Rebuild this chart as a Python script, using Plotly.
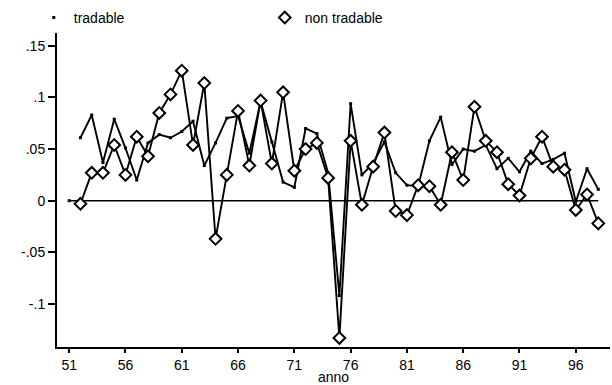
import plotly.graph_objects as go

years = list(range(52, 99))
tradable = [0.061, 0.083, 0.037, 0.079, 0.051, 0.020, 0.056, 0.064, 0.061, 0.067,
            0.077, 0.034, 0.056, 0.080, 0.082, 0.046, 0.096, 0.057, 0.018, 0.013,
            0.070, 0.065, 0.027, -0.092, 0.094, 0.025, 0.036, 0.057, 0.027, 0.015,
            0.014, 0.058, 0.081, 0.035, 0.050, 0.048, 0.054, 0.031, 0.041, 0.028,
            0.048, 0.036, 0.040, 0.046, -0.001, 0.031, 0.011]
non_tradable = [-0.003, 0.027, 0.027, 0.054, 0.025, 0.062, 0.043, 0.085, 0.103, 0.126,
                0.054, 0.114, -0.037, 0.025, 0.087, 0.034, 0.097, 0.036, 0.105, 0.029,
                0.050, 0.056, 0.022, -0.133, 0.058, -0.004, 0.033, 0.066, -0.010, -0.014,
                0.015, 0.014, -0.004, 0.047, 0.020, 0.091, 0.058, 0.047, 0.016, 0.005,
                0.041, 0.062, 0.033, 0.030, -0.009, 0.006, -0.022]
zero_years = list(range(51, 99))
zero_vals = [0.0] * len(zero_years)

x_ticks = list(range(51, 97, 5))
y_ticks = [-0.1, -0.05, 0, 0.05, 0.1, 0.15]
y_tick_labels = ["-.1", "-.05", "0", ".05", ".1", ".15"]

FONT = "Liberation Sans, Arial, sans-serif"

fig = go.Figure()
fig.add_trace(go.Scatter(x=zero_years, y=zero_vals, mode="lines",
                         line=dict(color="black", width=1.6), showlegend=False, hoverinfo="skip"))
fig.add_trace(go.Scatter(x=zero_years[:1], y=zero_vals[:1], mode="markers",
                         marker=dict(symbol="square", size=3, color="black"), showlegend=False))
fig.add_trace(go.Scatter(x=years, y=tradable, mode="lines+markers",
                         line=dict(color="black", width=1.9),
                         marker=dict(symbol="square", size=3, color="black"),
                         showlegend=False))
fig.add_trace(go.Scatter(x=years, y=non_tradable, mode="lines+markers",
                         line=dict(color="black", width=1.9),
                         marker=dict(symbol="diamond", size=9, color="white",
                                     line=dict(color="black", width=2)),
                         showlegend=False))
# legend entries (marker only)
fig.add_trace(go.Scatter(x=[None], y=[None], mode="markers", name="tradable",
                         marker=dict(symbol="square", size=3, color="black")))
fig.add_trace(go.Scatter(x=[None], y=[None], mode="markers", name="non tradable",
                         marker=dict(symbol="diamond", size=9, color="white",
                                     line=dict(color="black", width=2))))

fig.update_layout(
    width=612, height=385,
    margin=dict(l=57, r=2, t=31, b=38),
    paper_bgcolor="white", plot_bgcolor="white",
    font=dict(family=FONT, size=14, color="black"),
    legend=dict(orientation="h", x=-0.042, y=1.048, xanchor="left", yanchor="middle",
                entrywidth=186, itemwidth=30, font=dict(size=14),
                bgcolor="rgba(0,0,0,0)"),
    xaxis=dict(range=[49.916, 99.04], tickmode="array", tickvals=x_ticks,
               ticktext=[str(v) for v in x_ticks],
               showgrid=False, zeroline=False, showline=True, linecolor="black", linewidth=2,
               ticks="outside", ticklen=4, tickwidth=2, tickcolor="black",
               tickfont=dict(size=14)),
    yaxis=dict(range=[-0.1418, 0.1625], tickmode="array", tickvals=y_ticks,
               ticktext=y_tick_labels,
               showgrid=False, zeroline=False, showline=True, linecolor="black", linewidth=2,
               ticks="outside", ticklen=7, tickwidth=2, tickcolor="black",
               tickfont=dict(size=14)),
    annotations=[dict(text="anno", xref="paper", yref="paper", x=0.5, y=-0.0967,
                      xanchor="center", yanchor="middle", showarrow=False,
                      font=dict(size=14))],
)

fig.write_html("out.html")
